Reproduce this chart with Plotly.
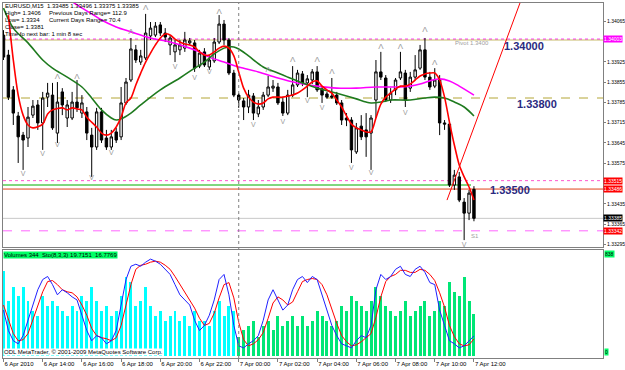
import plotly.graph_objects as go
import pandas as pd

# ---------------- data ----------------
bar_start = "2010-04-06 12:00"
n_bars = 97
times = pd.date_range(bar_start, periods=n_bars, freq="15min")

open_ = [1.34017,1.33948,1.33828,1.33738,1.33672,1.33662,1.33741,1.33776,1.33714,1.33803,
         1.33810,1.33679,1.33821,1.33731,1.33731,1.33786,1.33748,1.33752,1.33672,1.33631,
         1.33752,1.33662,1.33631,1.33683,1.33666,1.33783,1.33862,1.33966,1.33924,1.33938,
         1.34014,1.34017,1.34052,1.34024,1.33983,1.33959,1.33966,1.33972,1.33990,1.33990,
         1.33910,1.33959,1.33907,1.33928,1.33993,1.34055,1.34000,1.33886,1.33810,1.33790,
         1.33769,1.33807,1.33745,1.33769,1.33810,1.33834,1.33838,1.33786,1.33748,1.33810,
         1.33845,1.33883,1.33852,1.33862,1.33890,1.33831,1.33814,1.33807,1.33810,1.33783,
         1.33731,1.33724,1.33614,1.33703,1.33690,1.33679,1.33793,1.33890,1.33869,1.33793,
         1.33828,1.33869,1.33886,1.33834,1.33872,1.33903,1.33966,1.33872,1.33841,1.33862,
         1.33714,1.33710,1.33500,1.33528,1.33441,1.33403,1.33485]
high = [1.34034,1.33966,1.33841,1.33752,1.33683,1.33769,1.33793,1.33793,1.33821,1.33852,
        1.33852,1.33855,1.33834,1.33793,1.33821,1.33862,1.33810,1.33769,1.33697,1.33766,
        1.33766,1.33690,1.33690,1.33697,1.33838,1.33869,1.34007,1.33983,1.33966,1.34090,
        1.34062,1.34062,1.34062,1.34041,1.34017,1.34000,1.34000,1.34028,1.34007,1.34000,
        1.33966,1.33972,1.33948,1.34007,1.34086,1.34069,1.34007,1.33897,1.33817,1.33800,
        1.33828,1.33817,1.33793,1.33821,1.33876,1.33862,1.33852,1.33800,1.33828,1.33910,
        1.33897,1.33893,1.33879,1.33900,1.33910,1.33841,1.33821,1.33869,1.33821,1.33793,
        1.33748,1.33734,1.33714,1.33741,1.33748,1.33741,1.33931,1.33959,1.33879,1.33834,
        1.33869,1.33959,1.33897,1.33890,1.33948,1.33983,1.34007,1.33890,1.33903,1.33879,
        1.33724,1.33717,1.33552,1.33545,1.33455,1.33483,1.33496]
low = [1.33931,1.33793,1.33707,1.33576,1.33552,1.33631,1.33731,1.33690,1.33621,1.33769,
       1.33690,1.33645,1.33741,1.33700,1.33724,1.33752,1.33731,1.33655,1.33528,1.33621,
       1.33645,1.33621,1.33621,1.33645,1.33655,1.33776,1.33855,1.33921,1.33914,1.33931,
       1.34000,1.34010,1.34014,1.33993,1.33948,1.33924,1.33948,1.33959,1.33983,1.33890,
       1.33903,1.33907,1.33897,1.33921,1.33986,1.33983,1.33879,1.33803,1.33766,1.33724,
       1.33748,1.33724,1.33734,1.33759,1.33803,1.33821,1.33776,1.33738,1.33741,1.33803,
       1.33838,1.33841,1.33803,1.33848,1.33821,1.33783,1.33797,1.33797,1.33776,1.33707,
       1.33703,1.33576,1.33607,1.33655,1.33597,1.33552,1.33731,1.33862,1.33786,1.33783,
       1.33810,1.33862,1.33769,1.33821,1.33862,1.33897,1.33862,1.33828,1.33834,1.33672,
       1.33690,1.33493,1.33483,1.33441,1.33310,1.33379,1.33375]
close = [1.33941,1.33803,1.33748,1.33666,1.33655,1.33734,1.33772,1.33714,1.33800,1.33817,
         1.33697,1.33786,1.33776,1.33776,1.33786,1.33766,1.33783,1.33679,1.33631,1.33752,
         1.33655,1.33631,1.33666,1.33655,1.33783,1.33855,1.33969,1.33931,1.33945,1.34024,
         1.34041,1.34048,1.34024,1.34010,1.34007,1.33983,1.33983,1.34000,1.33997,1.33903,
         1.33955,1.33914,1.33931,1.33993,1.34055,1.34000,1.33886,1.33810,1.33793,1.33769,
         1.33810,1.33748,1.33769,1.33810,1.33838,1.33841,1.33783,1.33748,1.33810,1.33845,
         1.33886,1.33852,1.33866,1.33890,1.33828,1.33810,1.33803,1.33803,1.33783,1.33724,
         1.33724,1.33621,1.33697,1.33666,1.33666,1.33731,1.33890,1.33872,1.33793,1.33817,
         1.33862,1.33890,1.33793,1.33872,1.33897,1.33966,1.33872,1.33838,1.33862,1.33714,
         1.33710,1.33500,1.33534,1.33448,1.33403,1.33472,1.33385]

# moving averages (bar index, price)
red_ma_idx = [1,2,3,4,5,6,8,9,10,12,13,14,15,16,17,19,20,21,22,23,24,25,26,27,28,29,30,31,32,33,34,35,36,37,38,39,40,41,42,43,44,45,46,47,48,49,50,51,52,53,54,55,57,59,60,61,62,63,64,65,66,67,68,69,70,71,72,73,74,75,76,77,78,79,80,81,82,83,84,85,86,87,88,89,90,91,92,93,94,95,96]
red_ma_val = [1.34086,1.33931,1.33810,1.33741,1.33707,1.33697,1.33710,1.33745,1.33759,1.33766,1.33759,1.33766,1.33762,1.33759,1.33734,1.33700,1.33679,1.33672,1.33679,1.33700,1.33734,1.33783,1.33800,1.33845,1.33886,1.33924,1.33955,1.33983,1.34007,1.34021,1.34017,1.34003,1.33993,1.33986,1.33983,1.33976,1.33959,1.33948,1.33948,1.33959,1.33972,1.33979,1.33972,1.33945,1.33890,1.33834,1.33803,1.33786,1.33779,1.33783,1.33797,1.33803,1.33803,1.33810,1.33817,1.33828,1.33841,1.33855,1.33859,1.33841,1.33828,1.33817,1.33793,1.33769,1.33738,1.33710,1.33697,1.33690,1.33683,1.33683,1.33731,1.33779,1.33803,1.33817,1.33831,1.33841,1.33841,1.33848,1.33862,1.33876,1.33883,1.33886,1.33886,1.33862,1.33803,1.33717,1.33638,1.33569,1.33528,1.33493,1.33448]
green_ma_idx = [0,2,5,8,10,13,16,18,20,22,23,24,26,28,32,36,39,41,43,45,46,47,48,50,53,56,58,61,64,67,70,72,74,75,77,79,83,86,88,90,92,94,96]
green_ma_val = [1.34110,1.34041,1.33990,1.33931,1.33903,1.33872,1.33838,1.33800,1.33759,1.33731,1.33724,1.33728,1.33748,1.33776,1.33828,1.33869,1.33903,1.33924,1.33952,1.33972,1.33976,1.33976,1.33969,1.33945,1.33907,1.33886,1.33872,1.33852,1.33834,1.33821,1.33807,1.33797,1.33786,1.33783,1.33786,1.33793,1.33793,1.33800,1.33803,1.33800,1.33786,1.33769,1.33738]
mag_ma_idx = [13,15,18,20,23,26,30,34,38,40,42,45,48,52,56,60,64,68,72,76,80,83,85,87,89,91,93,96]
mag_ma_val = [1.34145,1.34121,1.34090,1.34069,1.34045,1.34028,1.34007,1.33993,1.33972,1.33959,1.33941,1.33924,1.33907,1.33890,1.33869,1.33852,1.33841,1.33834,1.33834,1.33838,1.33838,1.33841,1.33848,1.33859,1.33866,1.33859,1.33841,1.33810]

# fractals
frac_up_idx = [11,15,26,29,44,54,59,64,67,77,81,86,88]
frac_up_val = [1.33872,1.33872,1.34028,1.34110,1.34097,1.33897,1.33931,1.33931,1.33890,1.33976,1.33976,1.34034,1.33921]
frac_dn_idx = [4,8,11,18,22,35,39,42,51,57,62,65,71,75,82,94]
frac_dn_val = [1.33538,1.33607,1.33638,1.33524,1.33610,1.33907,1.33869,1.33890,1.33707,1.33717,1.33790,1.33766,1.33559,1.33541,1.33748,1.33293]

# volumes and stochastic
volume = [700,450,570,490,570,450,370,330,490,410,450,410,370,330,410,370,490,450,570,450,
          370,410,330,370,490,650,610,410,450,570,410,330,370,290,330,370,290,330,250,370,
          290,290,250,370,450,330,410,370,160,210,250,290,160,250,290,210,330,250,290,330,
          250,330,250,290,370,330,290,250,290,410,370,490,450,410,370,450,570,490,410,370,
          330,370,450,330,370,410,450,330,370,450,410,610,530,490,650,450,344]
sto_main = [45,25,15,12,20,35,50,65,75,78,70,60,65,62,58,55,40,25,15,20,18,12,15,25,50,75,88,90,88,92,
            95,93,90,85,80,70,60,55,50,35,25,30,40,55,75,80,60,30,10,8,12,15,20,35,55,65,55,45,50,65,
            75,78,72,78,75,60,45,30,20,12,10,8,15,20,18,30,65,80,75,78,85,88,80,78,85,88,82,72,70,45,
            30,15,12,8,10,15,19.7151]
sto_signal = [50,35,22,15,16,22,35,50,63,73,74,70,65,63,62,58,50,40,27,20,18,17,15,18,30,50,70,85,89,90,
              92,93,92,89,85,78,70,62,55,47,37,30,32,42,57,70,72,57,33,16,10,12,16,23,37,52,58,55,50,53,
              63,73,75,76,75,70,60,45,32,20,14,10,11,14,18,22,38,58,73,78,80,84,84,82,82,85,84,80,74,62,
              48,30,19,12,10,11,16.7769]

levels_price = [1.34003, 1.34000, 1.33800, 1.33515, 1.33500, 1.33486, 1.33385, 1.33342]
levels_color = ["#FF00FF", "#C8BA6A", "#B4A636", "#FF55CC", "#00B000", "#E0401A", "#C8C8C8", "#FF66FF"]
levels_dash = ["dot", "solid", "dash", "dot", "solid", "solid", "solid", "dash"]

price_tick_vals = [1.34065, 1.33925, 1.33855, 1.33785, 1.33715, 1.33645, 1.33575, 1.33435, 1.33365, 1.33295]
price_tags = [1.34003, 1.33515, 1.33486, 1.33385, 1.33342]
price_tag_colors = ["#FF00FF", "#FF0000", "#FF0000", "#000000", "#FF0000"]

time_tick_vals = pd.date_range("2010-04-06 12:00", "2010-04-07 12:00", freq="2h")
time_tick_text = ["6 Apr 2010", "6 Apr 14:00", "6 Apr 16:00", "6 Apr 18:00", "6 Apr 20:00", "6 Apr 22:00",
                  "7 Apr 00:00", "7 Apr 02:00", "7 Apr 04:00", "7 Apr 06:00", "7 Apr 08:00", "7 Apr 10:00",
                  "7 Apr 12:00"]

trend_time = ["2010-04-07 10:37:30", "2010-04-07 14:21:00"]
trend_price = [1.33448, 1.34128]

x_range = ["2010-04-06 11:58:28", "2010-04-07 18:35:00"]
price_range = [1.332862, 1.341276]

# ---------------- figure ----------------
FONT = "Liberation Sans"
fig = go.Figure()

fig.add_trace(go.Candlestick(
    x=times, open=open_, high=high, low=low, close=close,
    increasing=dict(line=dict(color="#000000", width=1), fillcolor="#FFFFFF"),
    decreasing=dict(line=dict(color="#000000", width=1), fillcolor="#000000"),
    whiskerwidth=0, xaxis="x", yaxis="y", hoverinfo="skip", showlegend=False))

fig.add_trace(go.Scatter(x=times[mag_ma_idx], y=mag_ma_val, mode="lines",
                         line=dict(color="#FF00FF", width=1.6, shape="spline", smoothing=1.0),
                         xaxis="x", yaxis="y", showlegend=False, hoverinfo="skip"))
fig.add_trace(go.Scatter(x=times[green_ma_idx], y=green_ma_val, mode="lines",
                         line=dict(color="#1E7A1E", width=1.6, shape="spline", smoothing=1.0),
                         xaxis="x", yaxis="y", showlegend=False, hoverinfo="skip"))
fig.add_trace(go.Scatter(x=times[red_ma_idx], y=red_ma_val, mode="lines",
                         line=dict(color="#FF0000", width=1.6, shape="spline", smoothing=0.8),
                         xaxis="x", yaxis="y", showlegend=False, hoverinfo="skip"))
fig.add_trace(go.Scatter(x=pd.to_datetime(trend_time), y=trend_price, mode="lines",
                         line=dict(color="#FF0000", width=1),
                         xaxis="x", yaxis="y", showlegend=False, hoverinfo="skip"))

fig.add_trace(go.Scatter(x=times[frac_up_idx], y=frac_up_val, mode="text", text=["Λ"] * len(frac_up_idx),
                         textfont=dict(color="#9A9A9A", size=8, family=FONT),
                         xaxis="x", yaxis="y", showlegend=False, hoverinfo="skip"))
fig.add_trace(go.Scatter(x=times[frac_dn_idx], y=frac_dn_val, mode="text", text=["V"] * len(frac_dn_idx),
                         textfont=dict(color="#9A9A9A", size=7, family=FONT),
                         xaxis="x", yaxis="y", showlegend=False, hoverinfo="skip"))

vol_colors = ["#00FFFF" if i < 48 else "#00E676" for i in range(n_bars)]
fig.add_trace(go.Bar(x=times, y=volume, marker=dict(color=vol_colors, line=dict(width=0)),
                     width=15 * 60 * 1000 * 0.6, xaxis="x2", yaxis="y2", showlegend=False, hoverinfo="skip"))
fig.add_trace(go.Scatter(x=times, y=sto_signal, mode="lines", line=dict(color="#FF0000", width=1),
                         xaxis="x2", yaxis="y3", showlegend=False, hoverinfo="skip"))
fig.add_trace(go.Scatter(x=times, y=sto_main, mode="lines", line=dict(color="#2020FF", width=1),
                         xaxis="x2", yaxis="y3", showlegend=False, hoverinfo="skip"))

shapes = []
for p, c, d in zip(levels_price, levels_color, levels_dash):
    x1 = 1
    if abs(p - 1.335) < 1e-9:
        x1 = 0.78
    shapes.append(dict(type="line", xref="paper", yref="y", x0=0, x1=x1, y0=p, y1=p,
                       line=dict(color=c, width=1, dash=d), layer="below"))
shapes.append(dict(type="line", xref="x", yref="paper", x0="2010-04-07 00:00", x1="2010-04-07 00:00",
                   y0=0, y1=1, line=dict(color="#808080", width=1, dash="dot")))

ann = []
info_lines = ["EURUSD,M15  1.33485 1.33496 1.33375 1.33385", "High= 1.3406", "Low= 1.3334", "Close= 1.3381",
              "Time fo next bar: 1 min 8 sec"]
info_y = [6, 13, 20, 27, 34]
for t, yy in zip(info_lines, info_y):
    ann.append(dict(text=t, xref="paper", yref="paper", x=0.0, y=(358 - yy) / 355, xanchor="left",
                    yanchor="middle", showarrow=False, font=dict(size=6, color="#000", family=FONT)))
for t, yy in zip(["Previous Days Range= 112.9", "Current Days Range= 70.4"], [13, 20]):
    ann.append(dict(text=t, xref="paper", yref="paper", x=(47 - 3) / 600, y=(358 - yy) / 355, xanchor="left",
                    yanchor="middle", showarrow=False, font=dict(size=6, color="#000", family=FONT)))

for txt, p, xx in [("1.34000", 1.33979, 502), ("1.33800", 1.33779, 515), ("1.33500", 1.33483, 488)]:
    ann.append(dict(text="<b>%s</b>" % txt, xref="paper", yref="y", x=(xx - 3) / 600, y=p, xanchor="left",
                    yanchor="middle", showarrow=False, font=dict(size=11, color="#2A2A80", family=FONT)))
ann.append(dict(text="Pivot 1.3400", xref="paper", yref="y", x=(453 - 3) / 600, y=1.33990, xanchor="left",
                yanchor="middle", showarrow=False, font=dict(size=6, color="#A0A0A0", family=FONT)))
ann.append(dict(text="S1", xref="paper", yref="y", x=(469 - 3) / 600, y=1.33324, xanchor="left",
                yanchor="middle", showarrow=False, font=dict(size=6, color="#A0A0A0", family=FONT)))

for p, c in zip(price_tags, price_tag_colors):
    ann.append(dict(text="%.5f" % p, xref="paper", yref="y", x=1.0, y=p, xanchor="left", yanchor="middle",
                    showarrow=False, bgcolor=c, borderpad=0, font=dict(size=5, color="#FFFFFF", family=FONT)))

ann.append(dict(text="Volumes 344  Sto(8,3,3) 19.7151  16.7769", xref="paper", yref="paper", x=0.0,
                y=(358 - 255) / 355, xanchor="left", yanchor="middle", showarrow=False, bgcolor="#00FF66",
                borderpad=0, font=dict(size=6, color="#000", family=FONT)))
ann.append(dict(text="838", xref="paper", yref="paper", x=1.002, y=(358 - 254) / 355, xanchor="left",
                yanchor="middle", showarrow=False, bgcolor="#00FF66", borderpad=0,
                font=dict(size=5, color="#000", family=FONT)))
ann.append(dict(text="0", xref="paper", yref="paper", x=1.002, y=(358 - 352) / 355, xanchor="left",
                yanchor="middle", showarrow=False, bgcolor="#00FF66", borderpad=0,
                font=dict(size=5, color="#000", family=FONT)))
ann.append(dict(text="ODL MetaTrader, © 2001-2009 MetaQuotes Software Corp.", xref="paper", yref="paper",
                x=0.0, y=(358 - 352) / 355, xanchor="left", yanchor="middle", showarrow=False,
                bgcolor="#FFFFFF", borderpad=0, font=dict(size=6, color="#000", family=FONT)))

axis_common = dict(showline=True, mirror=True, linecolor="#808080", linewidth=1, showgrid=False,
                   zeroline=False, automargin=False)
fig.update_layout(
    width=625, height=370, margin=dict(l=3, r=22, t=3, b=12, autoexpand=False),
    paper_bgcolor="#FFFFFF", plot_bgcolor="#FFFFFF", showlegend=False, bargap=0,
    font=dict(family=FONT, size=6, color="#000"),
    xaxis=dict(domain=[0, 1], anchor="y", type="date", range=x_range, showticklabels=False,
               rangeslider=dict(visible=False), ticks="", **axis_common),
    yaxis=dict(domain=[(358 - 247) / 355, 1], anchor="x", side="right", range=price_range,
               tickvals=price_tick_vals, ticktext=["%.5f" % v for v in price_tick_vals],
               ticks="outside", ticklen=2, tickcolor="#808080", tickfont=dict(size=5), **axis_common),
    xaxis2=dict(domain=[0, 1], anchor="y2", type="date", range=x_range, tickvals=time_tick_vals,
                ticktext=time_tick_text, ticks="outside", ticklen=3, tickcolor="#808080", tickangle=0,
                ticklabelposition="outside right", tickfont=dict(size=6), **axis_common),
    yaxis2=dict(domain=[0, (358 - 250) / 355], anchor="x2", side="right", range=[-16, 871],
                showticklabels=False, ticks="", **axis_common),
    yaxis3=dict(overlaying="y2", anchor="x2", side="right", range=[-1.91, 103.94],
                showticklabels=False, showgrid=False, zeroline=False, ticks=""),
    shapes=shapes, annotations=ann,
)

fig.write_html("out.html")
